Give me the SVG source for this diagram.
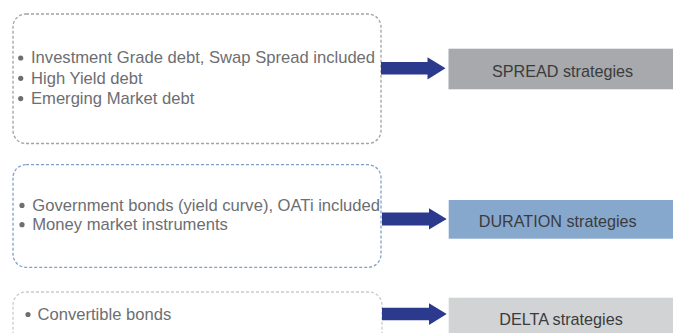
<svg xmlns="http://www.w3.org/2000/svg" width="673" height="333" viewBox="0 0 673 333">
<style>
  .src { fill: none; stroke-width: 1.3; stroke-dasharray: 3 2; }
  .item { font-family: "Liberation Sans", Arial, sans-serif; font-size: 16.6px; fill: #6d6e71; }
  .bullet { fill: #6d6e71; }
  .label { font-family: "Liberation Sans", Arial, sans-serif; font-size: 16.2px; fill: #3b3b3d; text-anchor: middle; }
  .arrow { fill: #2c3a8e; }
</style>
<rect width="673" height="333" fill="#ffffff"/>

<g id="credit-box">
  <rect class="src" x="13" y="14" width="368" height="129.5" rx="13" stroke="#a0a1a3"/>
  <circle class="bullet" cx="20.7" cy="58" r="2.6"/>
  <text class="item" x="31" y="63.3">Investment Grade debt, Swap Spread included</text>
  <circle class="bullet" cx="20.7" cy="78.3" r="2.6"/>
  <text class="item" x="31" y="83.6">High Yield debt</text>
  <circle class="bullet" cx="20.7" cy="98.6" r="2.6"/>
  <text class="item" x="31" y="103.9">Emerging Market debt</text>
</g>

<g id="rates-box">
  <rect class="src" x="13" y="164.7" width="368" height="102.6" rx="13" stroke="#7fa1cc"/>
  <circle class="bullet" cx="22" cy="205.4" r="2.6"/>
  <text class="item" x="32.3" y="210.7">Government bonds (yield curve), OATi included</text>
  <circle class="bullet" cx="22" cy="224.7" r="2.6"/>
  <text class="item" x="32.3" y="230">Money market instruments</text>
</g>

<g id="convertible-box">
  <rect class="src" x="13" y="292" width="369" height="60" rx="13" stroke="#cbcccd"/>
  <circle class="bullet" cx="28" cy="314.5" r="2.6"/>
  <text class="item" x="37.5" y="320">Convertible bonds</text>
</g>

<g id="spread-strategies">
  <rect x="448.5" y="48.7" width="224.5" height="40.6" fill="#a7a9ac"/>
  <text class="label" x="562.5" y="76.7">SPREAD strategies</text>
</g>

<g id="duration-strategies">
  <rect x="448.7" y="200" width="224.3" height="38.7" fill="#87a8cd"/>
  <text class="label" x="557.7" y="226.7">DURATION strategies</text>
</g>

<g id="delta-strategies">
  <rect x="448.7" y="297.7" width="224.3" height="40" fill="#d1d3d4"/>
  <text class="label" x="561" y="325">DELTA strategies</text>
</g>

<g id="connectors">
  <polygon class="arrow" points="381,62 427.5,62 427.5,57.2 445.5,68.3 427.5,79.4 427.5,74.6 381,74.6"/>
  <polygon class="arrow" points="382,212.5 429,212.5 429,208.3 446.7,219 429,229.5 429,225.4 382,225.4"/>
  <polygon class="arrow" points="382,307.8 429,307.8 429,303.3 446.7,314 429,325 429,320.3 382,320.3"/>
</g>
</svg>
